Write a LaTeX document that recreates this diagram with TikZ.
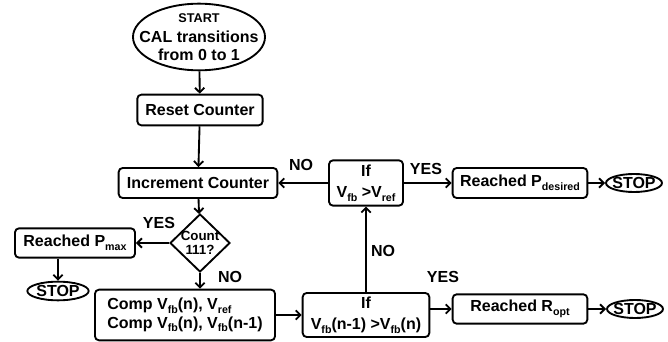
\documentclass[tikz,border=0pt]{standalone}
\usepackage{fontspec}
\setmainfont{Liberation Sans}
\usetikzlibrary{shapes.geometric}
\usetikzlibrary{arrows.meta}

\newcommand{\subtxt}[1]{\raisebox{-0.45ex}{\fontsize{8}{8}\selectfont #1}}

\tikzset{
  box/.style={draw, rounded corners=3pt, line width=1.4pt, inner sep=0pt, align=center},
  oval/.style={draw, ellipse, line width=1.4pt, inner xsep=-20pt, inner ysep=-10pt, align=center},
  flow/.style={-{Straight Barb[length=3.5pt, width=7pt]}, line width=1.4pt},
  tag/.style={inner sep=0pt}
}

\begin{document}
\begin{tikzpicture}[x=0.75pt, y=-0.75pt, font=\bfseries\fontsize{12}{14}\selectfont]

  \useasboundingbox (0,0) rectangle (668,342);

  \node (start) [oval, minimum width=99pt, minimum height=50pt] at (199,37)
    {{\fontsize{9.5}{9.5}\selectfont START}\\[1pt] CAL transitions\\ from 0 to 1};
  \node (reset) [box, minimum width=94pt, minimum height=23pt] at (200,110) {Reset Counter};
  \node (incr) [box, minimum width=119pt, minimum height=22.5pt] at (198,183) {Increment Counter};
  \node (count) [draw, diamond, line width=1.4pt, inner sep=-10pt, align=center,
                 minimum width=45pt, minimum height=43.5pt,
                 font=\bfseries\fontsize{10}{10.5}\selectfont] at (200,243) {Count\\111?};
  \node (pmax) [box, minimum width=90pt, minimum height=22pt] at (75,243) {Reached P\subtxt{max}};
  \node (stopA) [oval, minimum width=46pt, minimum height=14pt] at (58,291) {STOP};
  \node (comp) [box, align=left, minimum width=135pt, minimum height=38pt] at (185,315)
    {Comp V\subtxt{fb}(n), V\subtxt{ref}\\ Comp V\subtxt{fb}(n), V\subtxt{fb}(n-1)};
  \node (if2) [box, minimum width=95pt, minimum height=33pt] at (366,315)
    {If\\[2pt] V\subtxt{fb}(n-1) >V\subtxt{fb}(n)};
  \node (ropt) [box, minimum width=101pt, minimum height=22pt] at (520,309) {Reached R\subtxt{opt}};
  \node (stopC) [oval, minimum width=42pt, minimum height=13.5pt] at (635,309) {STOP};
  \node (if1) [box, minimum width=55.5pt, minimum height=34pt] at (366,183)
    {If\\[2pt] V\subtxt{fb} >V\subtxt{ref}};
  \node (pdes) [box, minimum width=101pt, minimum height=22.5pt] at (520,183) {Reached P\subtxt{desired}};
  \node (stopB) [oval, minimum width=42pt, minimum height=13.5pt] at (634,183) {STOP};

  % branch labels
  \node (yesA) [tag] at (159,223) {YES};
  \node (noA) [tag] at (230,277) {NO};
  \node (yesB) [tag] at (443,277) {YES};
  \node (noB) [tag] at (383,251) {NO};
  \node (noC) [tag] at (301,165) {NO};
  \node (yesC) [tag] at (426,169) {YES};

  \draw [flow] (start) -- (reset);
  \draw [flow] (reset) -- (incr);
  \draw [flow] (incr) -- (count);
  \draw [flow] (count.west) -- (pmax.east);
  \draw [flow] (stopA.north |- pmax.south) -- (stopA.north);
  \draw [flow] (count.south) -- (count.south |- comp.north);
  \draw [flow] (comp.east) -- (if2.west);
  \draw [flow] (if2.east |- ropt) -- (ropt.west);
  \draw [flow] (ropt.east) -- (stopC.west);
  \draw [flow] (if2.north) -- (if1.south);
  \draw [flow] (if1.west) -- (incr.east);
  \draw [flow] (if1.east) -- (pdes.west);
  \draw [flow] (pdes.east) -- (stopB.west);

\end{tikzpicture}
\end{document}
